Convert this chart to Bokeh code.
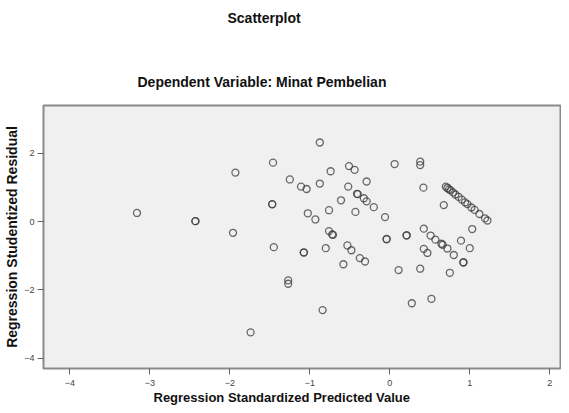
from bokeh.plotting import figure
from bokeh.models import ColumnDataSource, Title, FixedTicker, Range1d
from bokeh.embed import file_html
from bokeh.resources import INLINE

# Regression Standardized Predicted Value
pred = [
    -3.16, -2.43, -2.43, -1.93, -1.96, -1.46, -1.47, -1.47, -1.45, -1.74,
    -1.25, -1.27, -1.27, -0.875, -1.11, -1.04, -0.875, -0.74, -0.51, -0.44,
    -0.29, -0.52, -0.41, -0.40, -0.61, -0.325, -0.29, -0.20, -0.76, -0.43,
    -1.025, -0.93, -0.06, 0.06, 0.38, 0.38, 0.42, 0.675,
    0.70, 0.72, 0.74, 0.76, 0.79, 0.82, 0.86, 0.90, 0.94, 0.97,
    1.02, 1.06, 1.12, 1.19, 1.22,
    1.03, -0.76, -0.72, -0.71, -0.04, -0.04, 0.21, 0.21, 0.425,
    0.51, 0.57, 0.645, 0.66, 0.72, 0.80, 0.89, 1.00, 0.425, 0.47,
    0.92, 0.92, -1.075, -1.075, -0.80, -0.53, -0.48, -0.375, -0.31, -0.58,
    0.11, 0.38, 0.75, -0.84, 0.275, 0.52,
]
# Regression Studentized Residual
resid = [
    0.25, 0.01, 0.01, 1.43, -0.33, 1.72, 0.50, 0.51, -0.75, -3.24,
    1.23, -1.72, -1.82, 2.31, 1.02, 0.95, 1.11, 1.47, 1.62, 1.51,
    1.17, 1.02, 0.81, 0.80, 0.62, 0.68, 0.59, 0.42, 0.33, 0.28,
    0.24, 0.06, 0.13, 1.68, 1.75, 1.65, 0.99, 0.48,
    1.02, 0.98, 0.94, 0.91, 0.85, 0.79, 0.72, 0.64, 0.56, 0.51,
    0.41, 0.34, 0.22, 0.09, 0.03,
    -0.22, -0.28, -0.38, -0.39, -0.52, -0.51, -0.40, -0.41, -0.21,
    -0.41, -0.53, -0.65, -0.68, -0.79, -0.98, -0.56, -0.78, -0.80, -0.92,
    -1.20, -1.19, -0.90, -0.91, -0.78, -0.70, -0.84, -1.07, -1.17, -1.25,
    -1.42, -1.38, -1.50, -2.59, -2.39, -2.26,
]

x_ticks = [-4, -3, -2, -1, 0, 1, 2]
y_ticks = [-4, -2, 0, 2]

main_title = "Scatterplot"
sub_title = "Dependent Variable: Minat Pembelian"
x_label = "Regression Standardized Predicted Value"
y_label = "Regression Studentized Residual"

source = ColumnDataSource(data=dict(x=pred, y=resid))

p = figure(
    width=561, height=405,
    x_range=Range1d(-4.329, 2.146), y_range=Range1d(-4.298, 3.392),
    output_backend="svg", toolbar_location=None, title=None,
    min_border_left=43, min_border_right=0, min_border_top=105, min_border_bottom=37,
)
p.background_fill_color = "#f0f0f0"
p.border_fill_color = "white"
p.outline_line_color = "#8a8a8a"
p.outline_line_width = 2
p.grid.visible = False

for ax in (p.xaxis[0], p.yaxis[0]):
    ax.axis_line_color = None
    ax.major_tick_in = 0
    ax.major_tick_out = 6
    ax.major_tick_line_color = "#666666"
    ax.minor_tick_line_color = None
    ax.major_label_text_font = "Liberation Sans"
    ax.major_label_text_font_size = "9px"
    ax.major_label_text_color = "#444444"

p.xaxis[0].major_label_standoff = 5
p.yaxis[0].major_label_standoff = 3

p.xaxis[0].ticker = FixedTicker(ticks=x_ticks)
p.yaxis[0].ticker = FixedTicker(ticks=y_ticks)

p.yaxis[0].axis_label = y_label
p.yaxis[0].axis_label_text_font = "Liberation Sans"
p.yaxis[0].axis_label_text_font_style = "bold"
p.yaxis[0].axis_label_text_font_size = "14px"
p.yaxis[0].axis_label_text_color = "#111111"
p.yaxis[0].axis_label_standoff = 1

p.scatter("x", "y", source=source, marker="circle", size=7,
          fill_color=None, line_color="#3a3a3a", line_alpha=0.75, line_width=1.3)

tstyle = dict(text_font="Liberation Sans", text_font_style="bold", text_color="#111111")

# x-axis title (below the tick labels)
p.add_layout(Title(text=x_label, align="left", offset=110, standoff=-2,
                   text_font_size="13px", **tstyle), "below")

# subtitle closest to the frame, main title above it
p.add_layout(Title(text=sub_title, align="left", offset=94, standoff=31,
                   text_font_size="14px", **tstyle), "above")
p.add_layout(Title(text=main_title + "\n\n", align="left", offset=184, standoff=-6,
                   vertical_align="top", text_line_height=1.0,
                   text_font_size="14px", **tstyle), "above")

open("out.html", "w").write(file_html(p, INLINE))
